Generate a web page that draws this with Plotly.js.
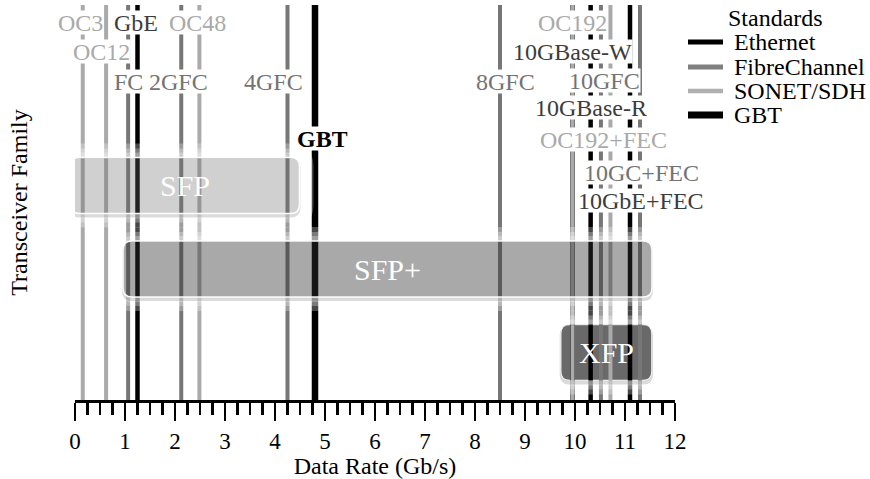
<!DOCTYPE html>
<html><head><meta charset="utf-8">
<script src="https://cdn.plot.ly/plotly-3.0.1.min.js"></script>
<style>html,body{margin:0;padding:0;background:#fff}#chart{width:870px;height:479px}</style>
</head><body><div id="chart"></div>
<script>
// ---- data ----
const standards = ['Ethernet', 'FibreChannel', 'SONET/SDH', 'GBT'];
const linkNames = ['OC3', 'OC12', 'FC', 'GbE', '2GFC', 'OC48', '4GFC', 'GBT', '8GFC', 'OC192', '10GBase-W', '10GBase-R', '10GFC', 'OC192+FEC', '10GbE+FEC', '10GC+FEC'];
const linkRates = [0.155, 0.622, 1.0625, 1.25, 2.125, 2.488, 4.25, 4.8, 8.5, 9.953, 9.953, 10.3125, 10.51875, 10.709, 11.1, 11.3];
const linkStandard = ['SONET/SDH', 'SONET/SDH', 'FibreChannel', 'Ethernet', 'FibreChannel', 'SONET/SDH', 'FibreChannel', 'GBT', 'FibreChannel', 'SONET/SDH', 'Ethernet', 'Ethernet', 'FibreChannel', 'SONET/SDH', 'Ethernet', 'FibreChannel'];
const families = ['XFP', 'SFP+', 'SFP'];
const familyMin = [9.953, 1.2, 0.155];
const familyMax = [11.3, 11.3, 4.25];
const xTickVals = [0, 1, 2, 3, 4, 5, 6, 7, 8, 9, 10, 11, 12];

// ---- styles ----
const FONT = '"Liberation Serif", "Times New Roman", serif';
const lineColor = {'Ethernet': '#000000', 'FibreChannel': '#777777', 'SONET/SDH': '#aaaaaa', 'GBT': '#000000'};
const lineWidth = {'Ethernet': 4.5, 'FibreChannel': 4, 'SONET/SDH': 4, 'GBT': 6.5};
const textColor = {'Ethernet': '#3c3c3c', 'FibreChannel': '#737373', 'SONET/SDH': '#a9a9a9', 'GBT': '#000000'};
const labelRowPx = [22, 52, 81, 22, 81, 22, 81, 138, 81, 22, 52, 108, 80, 139, 200, 172];
const labelShiftPx = [-2, -5, 0, -2, -3, -2, -14, 7, 5, 0, 0, 0, 4, -7, 11, 1];
const familyFill = {'SFP': 'rgba(110,110,110,0.32)', 'SFP+': 'rgba(50,50,50,0.42)', 'XFP': 'rgba(105,105,105,1)'};
const familyLayer = {'SFP': 'above', 'SFP+': 'above', 'XFP': 'below'};

const W = 870, H = 479, ML = 75, MR = 195, MT = 5, MB = 79;
const plotW = W - ML - MR, plotH = H - MT - MB;
const xRange = [0, 12], yRange = [-0.569, 4.162];
const pxX = (xRange[1] - xRange[0]) / plotW;
const pxY = (yRange[1] - yRange[0]) / plotH;
const py2paper = p => (H - MB - p) / plotH;
const px2paper = p => (p - ML) / plotW;

// ---- vertical lines ----
const traces = standards.map(s => {
  const xs = [], ys = [];
  linkRates.forEach((r, i) => {
    if (linkStandard[i] === s) { xs.push(r, r, null); ys.push(yRange[0] - 1, yRange[1] + 1, null); }
  });
  return {type: 'scatter', mode: 'lines', name: s, x: xs, y: ys, showlegend: false, hoverinfo: 'skip',
          line: {color: lineColor[s], width: lineWidth[s]}};
});

// ---- rounded boxes ----
function rr(x0, x1, y0, y1, rx, ry) {
  return `M${x0 + rx},${y0} L${x1 - rx},${y0} Q${x1},${y0} ${x1},${y0 + ry} L${x1},${y1 - ry} Q${x1},${y1} ${x1 - rx},${y1} ` +
         `L${x0 + rx},${y1} Q${x0},${y1} ${x0},${y1 - ry} L${x0},${y0 + ry} Q${x0},${y0} ${x0 + rx},${y0} Z`;
}
const shapes = [];
const annotations = [];
const padPx = 12, halfHpx = 28, radPx = 9;
families.forEach((f, i) => {
  const x0 = familyMin[i] - padPx * pxX, x1 = familyMax[i] + padPx * pxX;
  const y0 = i - halfHpx * pxY, y1 = i + halfHpx * pxY;
  const inner = rr(x0, x1, y0, y1, radPx * pxX, radPx * pxY);
  [14, 9, 5].forEach(g => {
    const outer = rr(x0 - g * pxX, x1 + g * pxX, y0 - g * pxY, y1 + g * pxY, (radPx + g) * pxX, (radPx + g) * pxY);
    shapes.push({type: 'path', xref: 'x', yref: 'y', layer: 'above', path: outer + ' ' + inner, fillrule: 'evenodd',
                 fillcolor: 'rgba(255,255,255,0.28)', line: {width: 0}});
  });
  const sh = rr(x0 - 1 * pxX, x1 + 1 * pxX, y0 - 4 * pxY, y1 - 1 * pxY, (radPx + 1) * pxX, (radPx + 1) * pxY);
  shapes.push({type: 'path', xref: 'x', yref: 'y', layer: 'above', path: sh + ' ' + inner, fillrule: 'evenodd',
               fillcolor: 'rgba(90,90,90,0.22)', line: {width: 0}});
  shapes.push({type: 'path', xref: 'x', yref: 'y', layer: familyLayer[f], path: inner,
               fillcolor: familyFill[f], line: {color: 'rgba(255,255,255,0.95)', width: 1.6}});
  annotations.push({x: (familyMin[i] + familyMax[i]) / 2, y: i, xref: 'x', yref: 'y', text: f, showarrow: false,
                    font: {family: FONT, size: 30, color: '#ffffff'}, xanchor: 'center', yanchor: 'middle'});
});

// ---- link labels ----
linkNames.forEach((n, i) => {
  const s = linkStandard[i];
  annotations.push({x: linkRates[i], xref: 'x', xshift: labelShiftPx[i], y: py2paper(labelRowPx[i]), yref: 'paper',
    text: s === 'GBT' ? '<b>' + n + '</b>' : n, showarrow: false, xanchor: 'center', yanchor: 'middle',
    bgcolor: '#ffffff', borderpad: 0, height: 23,
    font: {family: FONT, size: 24, color: textColor[s]}});
});

// ---- legend (drawn) ----
const legRowPx = [42, 67, 91, 115];
const legLineW = {'Ethernet': 5, 'FibreChannel': 5, 'SONET/SDH': 4.5, 'GBT': 7};
const legLineC = {'Ethernet': '#000000', 'FibreChannel': '#808080', 'SONET/SDH': '#b0b0b0', 'GBT': '#000000'};
annotations.push({x: px2paper(775), y: py2paper(18), xref: 'paper', yref: 'paper', text: 'Standards', showarrow: false,
  xanchor: 'center', yanchor: 'middle', font: {family: FONT, size: 24, color: '#000'}});
standards.forEach((s, i) => {
  shapes.push({type: 'line', xref: 'paper', yref: 'paper', x0: px2paper(688), x1: px2paper(723),
    y0: py2paper(legRowPx[i]), y1: py2paper(legRowPx[i]), line: {color: legLineC[s], width: legLineW[s]}});
  annotations.push({x: px2paper(732), y: py2paper(legRowPx[i]), xref: 'paper', yref: 'paper', text: s, showarrow: false,
    xanchor: 'left', yanchor: 'middle', font: {family: FONT, size: 24, color: '#000'}});
});

const layout = {
  width: W, height: H,
  margin: {l: ML, r: MR, t: MT, b: MB, pad: 0},
  paper_bgcolor: '#ffffff', plot_bgcolor: '#ffffff',
  font: {family: FONT, size: 23, color: '#000'},
  showlegend: false,
  xaxis: {range: xRange, showgrid: false, zeroline: false, showline: true, linecolor: '#000', linewidth: 3,
    ticks: 'outside', ticklen: 18, tickwidth: 2.5, tickcolor: '#000', tickvals: xTickVals,
    ticktext: xTickVals.map(String), ticklabelstandoff: 0,
    tickfont: {family: FONT, size: 23, color: '#000'},
    minor: {dtick: 0.25, tick0: 0, ticks: 'outside', ticklen: 12, tickwidth: 2.5, tickcolor: '#000', showgrid: false},
    title: {text: 'Data Rate (Gb/s)', font: {family: FONT, size: 24, color: '#000'}, standoff: 2}},
  yaxis: {range: yRange, showgrid: false, zeroline: false, showline: false, ticks: '', showticklabels: false,
    title: {text: 'Transceiver Family', font: {family: FONT, size: 24, color: '#000'}, standoff: 39}},
  shapes: shapes,
  annotations: annotations
};
Plotly.newPlot('chart', traces, layout, {displayModeBar: false, staticPlot: true});
</script>
</body></html>
